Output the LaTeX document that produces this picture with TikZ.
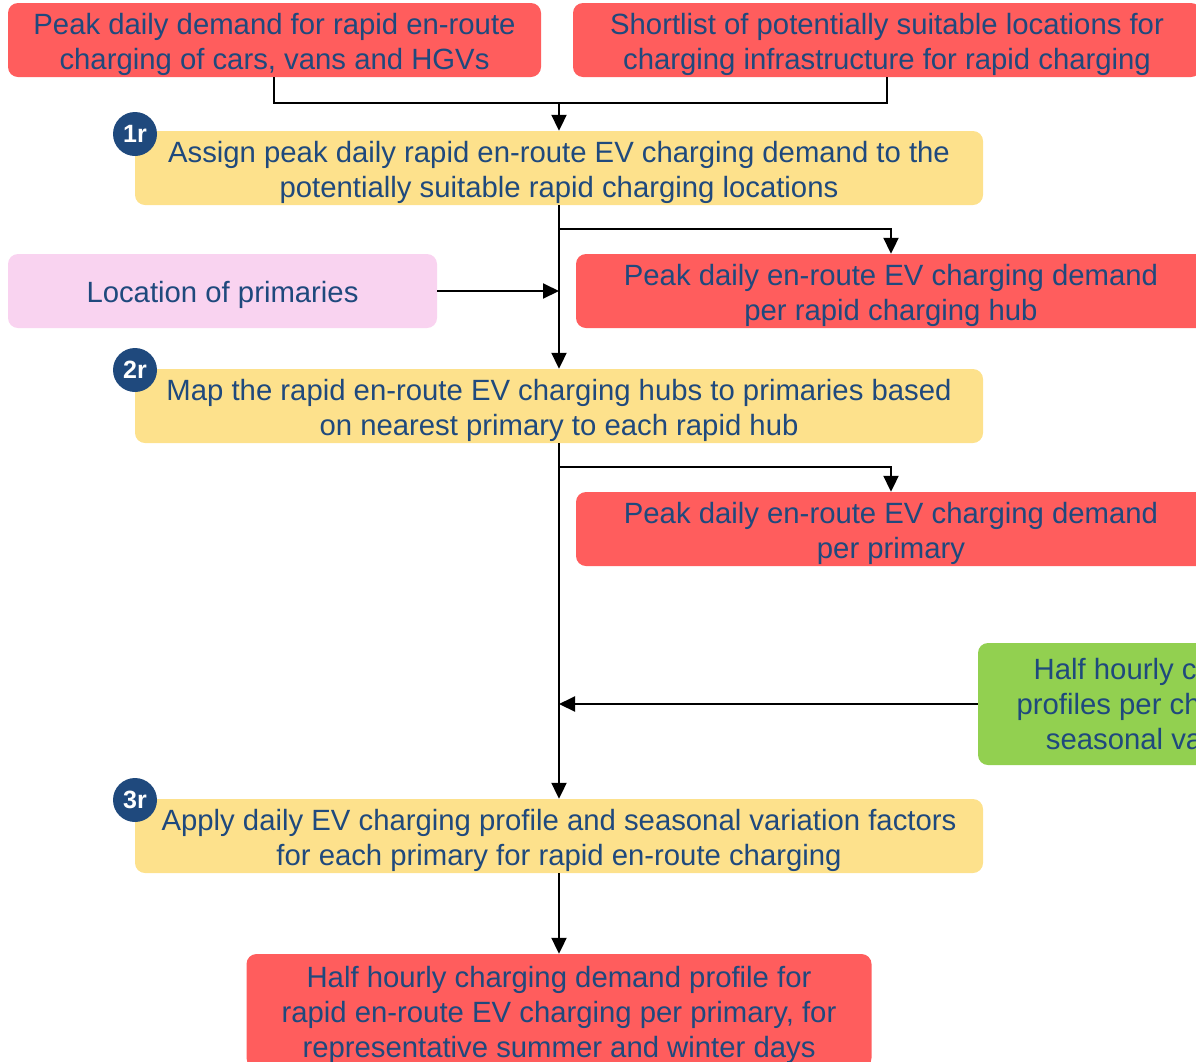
\documentclass[tikz,border=0pt]{standalone}
\usepackage{fontspec}
\setmainfont{Liberation Sans}
\usetikzlibrary{arrows.meta}
\definecolor{txtblue}{RGB}{31,73,125}
\definecolor{navy}{RGB}{31,73,125}
\definecolor{outred}{RGB}{255,93,93}
\definecolor{stepyellow}{RGB}{253,225,140}
\definecolor{inpink}{RGB}{249,211,240}
\definecolor{ingreen}{RGB}{146,208,80}
\tikzset{
  box/.style={rounded corners=10pt, inner sep=0pt, minimum height=74pt},
  outbox/.style={box, fill=outred},
  stepbox/.style={box, fill=stepyellow, minimum width=848pt},
  pinkbox/.style={box, fill=inpink},
  greenbox/.style={box, fill=ingreen},
  boxtext/.style={inner sep=0pt, align=center, text=txtblue, yshift=-4pt,
    font=\fontsize{29.3}{35}\selectfont},
  badge/.style={circle, fill=navy, text=white, inner sep=0pt, minimum size=44pt,
    font=\fontsize{25}{25}\selectfont\bfseries},
  conn/.style={line width=2pt, black},
  arr/.style={conn, -{Triangle[width=15pt,length=16pt]}},
}
\begin{document}
\begin{tikzpicture}[x=1pt,y=-1pt]
\useasboundingbox (0,0) rectangle (1196,1061);
\clip (0,0) rectangle (1196,1061);

% inputs
\node[outbox, minimum width=533pt] (peak) at (274.5,40) {};
\node[boxtext] (peak-t) at (peak)
  {Peak daily demand for rapid en-route\\charging of cars, vans and HGVs};
\node[outbox, minimum width=628pt] (short) at (887,40) {};
\node[boxtext] (short-t) at (short)
  {Shortlist of potentially suitable locations for\\charging infrastructure for rapid charging};

% step 1r
\node[stepbox] (s1) at (559,168) {};
\node[boxtext] (s1-t) at (s1)
  {Assign peak daily rapid en-route EV charging demand to the\\potentially suitable rapid charging locations};
\node[badge] (b1) at (135,134) {1r};

\node[pinkbox, minimum width=429pt] (loc) at (222.5,291) {};
\node[boxtext] (loc-t) at (loc) {Location of primaries};
\node[outbox, minimum width=630pt] (hub) at (891,291) {};
\node[boxtext] (hub-t) at (hub)
  {Peak daily en-route EV charging demand\\per rapid charging hub};

% step 2r
\node[stepbox] (s2) at (559,406) {};
\node[boxtext] (s2-t) at (s2)
  {Map the rapid en-route EV charging hubs to primaries based\\on nearest primary to each rapid hub};
\node[badge] (b2) at (135,370) {2r};

\node[outbox, minimum width=630pt] (prim) at (891,529) {};
\node[boxtext] (prim-t) at (prim)
  {Peak daily en-route EV charging demand\\per primary};

\node[greenbox, minimum width=384pt, minimum height=122pt] (prof) at (1170,704) {};
\node[boxtext] (prof-t) at (1164,700)
  {Half hourly charging\\profiles per charger for\\seasonal variation};

% step 3r
\node[stepbox] (s3) at (559,836) {};
\node[boxtext] (s3-t) at (s3)
  {Apply daily EV charging profile and seasonal variation factors\\for each primary for rapid en-route charging};
\node[badge] (b3) at (135,800) {3r};

\node[outbox, minimum width=625pt, minimum height=114pt] (final) at (559,1011) {};
\node[boxtext] (final-t) at (final)
  {Half hourly charging demand profile for\\rapid en-route EV charging per primary, for\\representative summer and winter days};

% connectors
\coordinate (j0) at (559,103);
\coordinate (j1) at (559,229);
\coordinate (j2) at (559,467);
\draw[conn] (peak.south -| 274,0) |- (j0) -| (short.south);
\draw[arr] (j0) -- (s1.north);
\draw[arr] (s1.south) -- (s2.north);
\draw[arr] (j1) -| (hub.north);
\draw[arr] (loc.east) -- (loc.east -| s1.south);
\draw[arr] (s2.south) -- (s3.north);
\draw[arr] (j2) -| (prim.north);
\draw[arr] (prof.west) -- (prof.west -| s2.south);
\draw[arr] (s3.south) -- (final.north);
\end{tikzpicture}
\end{document}
